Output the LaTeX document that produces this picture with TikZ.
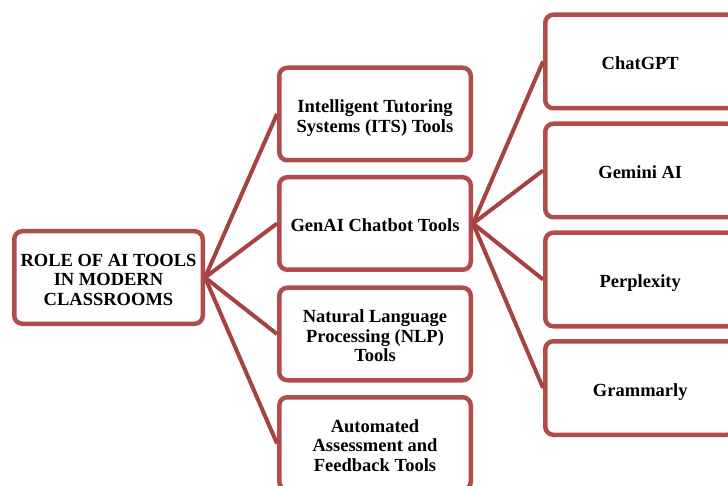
\documentclass[tikz,border=0pt]{standalone}
\usepackage{fontspec}
\setmainfont{Liberation Serif}
\definecolor{boxred}{RGB}{176,76,74}
\definecolor{linered}{RGB}{166,66,66}
\newcommand{\bxt}[1]{\raisebox{-4.5pt}[\height][\depth]{\begin{tabular}{@{}c@{}}#1\end{tabular}}}
\begin{document}
\begin{tikzpicture}[x=1pt,y=-1pt,
  box/.style={draw=boxred,line width=4.5pt,rounded corners=8pt,fill=white,
    inner sep=0pt,align=center,font=\fontsize{18.5}{19.5}\selectfont\bfseries},
  midbox/.style={box,minimum width=191.5pt,minimum height=92.5pt},
  rightbox/.style={box,minimum width=190pt,minimum height=93.5pt},
  conn/.style={draw=linered,line width=4pt}]
\useasboundingbox (0,0) rectangle (728,486);
\clip (0,0) rectangle (728,486);
\node[box,minimum width=188.5pt,minimum height=92.5pt] (root) at (108.5,277.5) {\bxt{ROLE OF AI TOOLS\\IN MODERN\\CLASSROOMS}};
\node[midbox] (its) at (375,114) {\bxt{Intelligent Tutoring\\Systems (ITS) Tools}};
\node[midbox] (gen) at (375,223.5) {\bxt{GenAI Chatbot Tools}};
\node[midbox] (nlp) at (375,334) {\bxt{Natural Language\\Processing (NLP)\\Tools}};
\node[midbox] (aut) at (375,443.5) {\bxt{Automated\\Assessment and\\Feedback Tools}};
\node[rightbox] (gpt) at (640.25,61.5) {\bxt{ChatGPT}};
\node[rightbox] (gem) at (640.25,170.5) {\bxt{Gemini AI}};
\node[rightbox] (per) at (640.25,279.5) {\bxt{Perplexity}};
\node[rightbox] (gra) at (640.25,388) {\bxt{Grammarly}};
\foreach \t in {its,gen,nlp,aut} \draw[conn] (root.east) -- (\t.west);
\foreach \t in {gpt,gem,per,gra} \draw[conn] (gen.east) -- (\t.west);
\end{tikzpicture}
\end{document}
